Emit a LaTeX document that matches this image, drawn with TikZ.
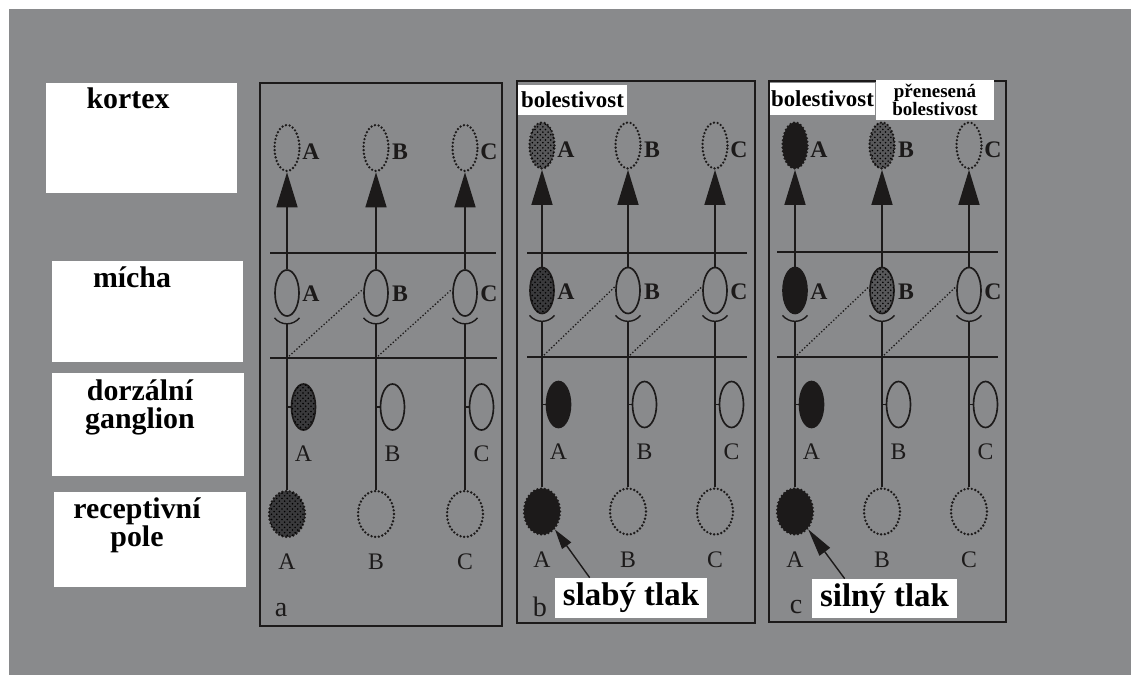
\documentclass[tikz,border=0pt]{standalone}
\usepackage{fontspec}
\setmainfont{Liberation Serif}
\usetikzlibrary{shapes.geometric,arrows.meta,patterns,calc}
\definecolor{bg}{RGB}{137,138,140}
\definecolor{ink}{RGB}{28,26,26}
\definecolor{stipA}{RGB}{58,58,60}
\definecolor{stipB}{RGB}{88,88,90}
\newcommand\ncol[7]{%
  \node[kort,#3] (#1k) at (#2,148) {};
  \node[lab] (#1kl) at (#2+24,152) {#7};
  \node[spin,#4] (#1s) at (#2,293) {};
  \node[lab] (#1sl) at (#2+24,294) {#7};
  \node[gang,#5] (#1g) at (#2+16.5,407) {};
  \node[labr] (#1gl) at (#2+16.5,454) {#7};
  \node[rec,#6] (#1r) at (#2,514) {};
  \node[labr] (#1rl) at (#2,562) {#7};
  \draw[ax,-{Triangle[length=0.7cm,width=0.42cm]}] (#1s.north) -- (#1k.south);
  \draw[ax] ($(#1s.south)+(-12.5,1)$) .. controls ($(#1s.south)+(-6,9)$) and ($(#1s.south)+(6,9)$) .. ($(#1s.south)+(12.5,1)$);
  \coordinate (#1c) at ($(#1s.south)+(0,7)$);
  \draw[ax] (#1c) -- (#1r.north);
  \draw[ax] (#1g.west) -- (#1g.west -| #1r.north);
}
\begin{document}
\begin{tikzpicture}[x=0.02cm,y=-0.02cm,
  ax/.style={draw=ink,line width=0.8pt},
  ol/.style={draw=ink,line width=0.95pt},
  dotl/.style={draw=ink,line width=1.5pt,dash pattern=on 0pt off 2.1pt,line cap=round},
  dotd/.style={draw=ink,line width=1.05pt,dash pattern=on 0pt off 1.9pt,line cap=round},
  ell/.style={ellipse,inner sep=0pt,minimum height=0.92cm},
  kort/.style={ell,dotl,minimum width=0.5cm},
  spin/.style={ell,ol,minimum width=0.48cm},
  gang/.style={ell,ol,minimum width=0.48cm},
  rec/.style={ell,dotl,minimum width=0.72cm},
  lab/.style={font=\bfseries\fontsize{13.5}{13.5}\selectfont,text=ink,inner sep=0pt},
  labr/.style={font=\fontsize{13.5}{13.5}\selectfont,text=ink,inner sep=0pt},
  plet/.style={font=\fontsize{16}{16}\selectfont,text=ink,inner sep=0pt},
  stip/.style={fill=stipA,postaction={pattern=crosshatch dots,pattern color=black}},
  stipl/.style={fill=stipB,postaction={pattern=crosshatch dots,pattern color=black}},
  blk/.style={fill=ink},
  panel/.style={draw=ink,line width=0.9pt,inner sep=0pt},
  hline/.style={draw=ink,line width=0.9pt},
  wbox/.style={fill=white,inner sep=0pt},
  side/.style={font=\bfseries\fontsize{17}{17}\selectfont,text=black,inner sep=0pt,anchor=base},
  tag/.style={wbox,font=\bfseries\fontsize{13}{13}\selectfont,text=black},
  press/.style={wbox,font=\bfseries\fontsize{18.7}{18.7}\selectfont,text=black}
]
\useasboundingbox (0,0) rectangle (1131,675);
\fill[white] (0,0) rectangle (1131,675);
\fill[bg] (9,9) rectangle (1131,675);

% left labels
\node[wbox,minimum width=3.82cm,minimum height=2.2cm] (bk) at (141.5,138) {};
\node[wbox,minimum width=3.82cm,minimum height=2.02cm] (bm) at (147.5,311.5) {};
\node[wbox,minimum width=3.84cm,minimum height=2.06cm] (bd) at (148,424.5) {};
\node[wbox,minimum width=3.84cm,minimum height=1.9cm] (br) at (150,539.5) {};
\node[side] (tk) at (128,109) {kortex};
\node[side] (tm) at (132,287) {mícha};
\node[side] (td1) at (140,400) {dorzální};
\node[side] (td2) at (140,428) {ganglion};
\node[side] (tr1) at (137,518) {receptivní};
\node[side] (tr2) at (137,546) {pole};

% panels
\node[panel,minimum width=4.84cm,minimum height=10.86cm] (Pa) at (381,354.5) {};
\node[panel,minimum width=4.76cm,minimum height=10.84cm] (Pb) at (636,352) {};
\node[panel,minimum width=4.74cm,minimum height=10.82cm] (Pc) at (887.5,351.5) {};

\coordinate (aU1) at (270,253); \coordinate (aU2) at (496,253);
\coordinate (aL1) at (270,358); \coordinate (aL2) at (497,358);
\coordinate (bU1) at (527,253); \coordinate (bU2) at (747,253);
\coordinate (bL1) at (527,357); \coordinate (bL2) at (747,357);
\coordinate (cU1) at (777,252); \coordinate (cU2) at (998,252);
\coordinate (cL1) at (777,357); \coordinate (cL2) at (998,357);
\foreach \p in {a,b,c}{
  \draw[hline] (\p U1) -- (\p U2);
  \draw[hline] (\p L1) -- (\p L2);
}

\ncol{aA}{287}{}{}{stip}{stip}{A}
\ncol{aB}{376}{}{}{}{}{B}
\ncol{aC}{465}{}{}{}{}{C}
\begin{scope}[yshift=0.05cm]
\ncol{bA}{542}{stipl}{stip}{blk}{blk}{A}
\ncol{bB}{628}{}{}{}{}{B}
\ncol{bC}{715}{}{}{}{}{C}
\ncol{cA}{795}{blk}{blk}{blk}{blk}{A}
\ncol{cB}{882}{stipl}{stipl}{}{}{B}
\ncol{cC}{969}{}{}{}{}{C}
\end{scope}

\draw[dotd] (aAr.north |- aL1) -- ($(aBs.west)+(0,-4)$);
\draw[dotd] (aBr.north |- aL1) -- ($(aCs.west)+(0,-4)$);
\draw[dotd] (bAr.north |- bL1) -- ($(bBs.west)+(0,-4)$);
\draw[dotd] (bBr.north |- bL1) -- ($(bCs.west)+(0,-4)$);
\draw[dotd] (cAr.north |- cL1) -- ($(cBs.west)+(0,-4)$);
\draw[dotd] (cBr.north |- cL1) -- ($(cCs.west)+(0,-4)$);

\node[plet] (la) at (281,610) {a};
\node[plet] (lb) at (540,607) {b};
\node[plet] (lc) at (796,607) {c};

% tags
\node[tag,minimum width=2.18cm,minimum height=0.6cm] (tb) at (572.5,100) {bolestivost};
\node[tag,minimum width=2.1cm,minimum height=0.64cm] (tc) at (822.5,99) {bolestivost};
\node[wbox,minimum width=2.36cm,minimum height=0.8cm,align=center,
      font=\bfseries\fontsize{10.8}{10.4}\selectfont] (tp) at (935,100) {přenesená\\bolestivost};

\node[press,minimum width=3.04cm,minimum height=0.8cm] (sb) at (631,598) {slabý tlak};
\node[press,minimum width=2.9cm,minimum height=0.78cm] (sc) at (884.5,598.5) {silný tlak};
\coordinate (sbo) at ($(sb.north west)+(35,0)$);
\coordinate (sco) at ($(sc.north west)+(33,0)$);
\draw[ax,-{Triangle[length=0.4cm,width=0.22cm]}] (sbo) -- (bAr);
\draw[ax,-{Triangle[length=0.56cm,width=0.26cm]}] (sco) -- (cAr);
\end{tikzpicture}
\end{document}
